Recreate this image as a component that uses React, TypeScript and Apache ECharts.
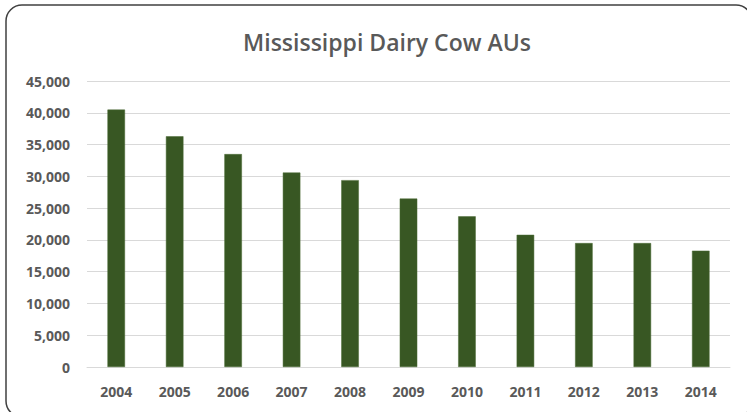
import React, { useEffect, useRef } from "react";
import * as echarts from "echarts";

const years = ["2004", "2005", "2006", "2007", "2008", "2009", "2010", "2011", "2012", "2013", "2014"];
const cowAUs = [40500, 36300, 33500, 30600, 29400, 26500, 23700, 20800, 19500, 19500, 18300];
const yTicks = { min: 0, max: 45000, interval: 5000 };
const titleText = "Mississippi Dairy Cow AUs";

export default function App() {
  const ref = useRef<HTMLDivElement>(null);
  useEffect(() => {
    if (!ref.current) return;
    const chart = echarts.init(ref.current, null, { renderer: "svg" });
    chart.setOption({
      animation: false,
      backgroundColor: "#ffffff",
      title: {
        text: titleText,
        left: 382,
        textAlign: "center",
        top: 25,
        textStyle: { fontFamily: "Open Sans", fontSize: 23, fontWeight: 600, color: "#595959" },
      },
      graphic: [
        {
          type: "rect",
          shape: { x: 6, y: 5, width: 746, height: 412, r: 16 },
          style: { fill: "none", stroke: "#404040", lineWidth: 1.5 },
          silent: true,
        },
      ],
      grid: { left: 87, right: 17, top: 81, bottom: 45 },
      xAxis: {
        type: "category",
        data: years,
        axisLine: { show: true, lineStyle: { color: "#d9d9d9", width: 1 } },
        axisTick: { show: false },
        axisLabel: { fontFamily: "Open Sans", fontSize: 14, fontWeight: "bold", color: "#595959", margin: 17 },
      },
      yAxis: {
        type: "value",
        min: yTicks.min,
        max: yTicks.max,
        interval: yTicks.interval,
        axisLine: { show: false },
        axisTick: { show: false },
        splitLine: { lineStyle: { color: "#d9d9d9", width: 1 } },
        axisLabel: {
          fontFamily: "Open Sans",
          fontSize: 14,
          fontWeight: "bold",
          color: "#595959",
          margin: 17,
          formatter: (v: number) => v.toLocaleString("en-US"),
        },
      },
      series: [
        {
          type: "bar",
          data: cowAUs,
          barWidth: "30%",
          itemStyle: { color: "#385723", borderColor: "#4a6a34", borderWidth: 0.5 },
        },
      ],
    });
    return () => chart.dispose();
  }, []);
  return <div ref={ref} style={{ width: 747, height: 412, position: "fixed", left: 0, top: 0 }} />;
}
